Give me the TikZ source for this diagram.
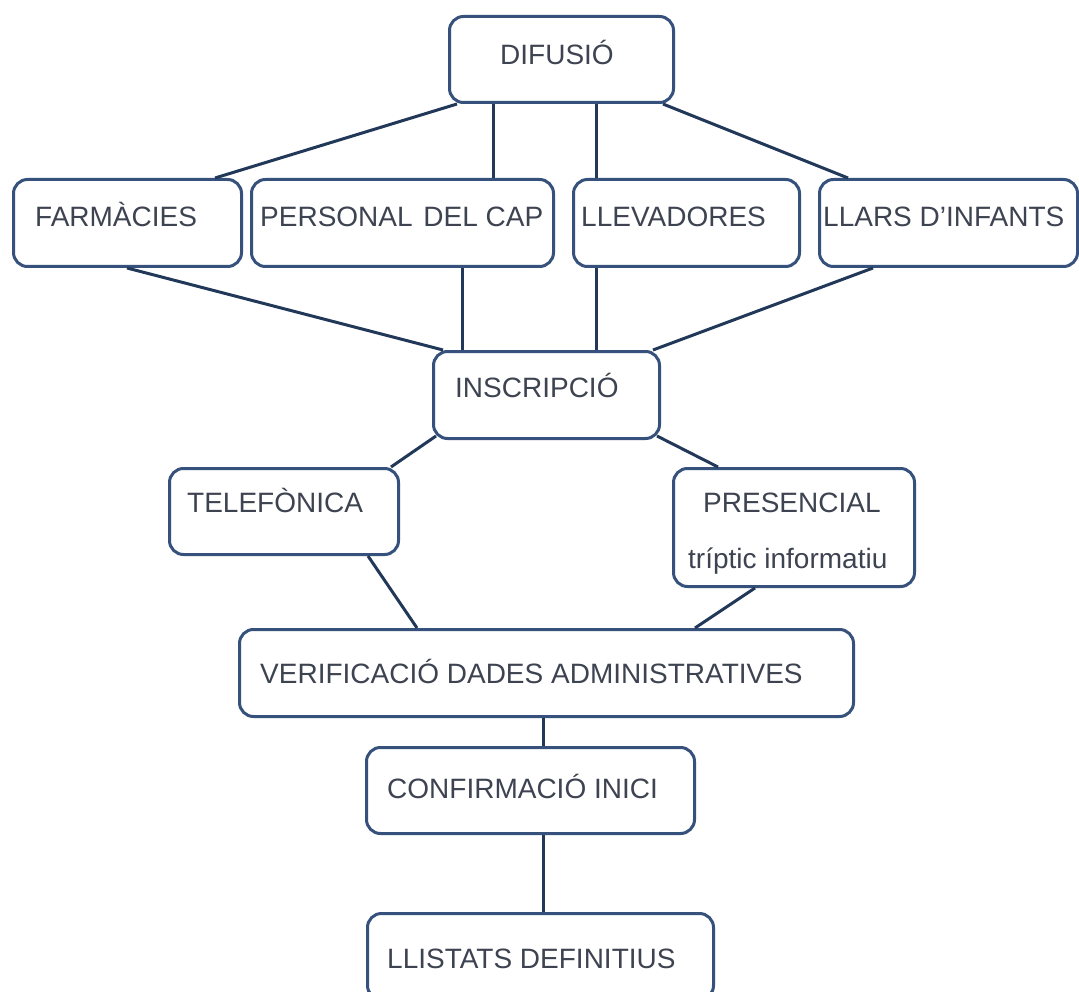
\documentclass[tikz,border=0pt]{standalone}
\usepackage{fontspec}
\setmainfont{Liberation Sans}
\definecolor{boxline}{HTML}{36527C}
\definecolor{conn}{HTML}{223858}
\definecolor{txtcol}{HTML}{3D4350}
\begin{document}
\begin{tikzpicture}[x=1pt,y=-1pt,
  box/.style={draw=boxline, line width=3pt, rounded corners=14pt, rectangle,
    anchor=north west, inner sep=0pt, fill=white},
  lbl/.style={anchor=base west, inner sep=0pt, text=txtcol,
    font=\fontsize{28}{34}\selectfont},
  link/.style={draw=conn, line width=3pt}]
\useasboundingbox[fill=white] (0,0) rectangle (1079,992);
\begin{scope}
\clip (0,0) rectangle (1079,992);
% boxes
\node[box, minimum width=224pt, minimum height=86pt] (difusio) at (448,15) {};
\node[box, minimum width=228pt, minimum height=87pt] (farm) at (12,178) {};
\node[box, minimum width=302pt, minimum height=87pt] (personal) at (250,178) {};
\node[box, minimum width=226pt, minimum height=87pt] (llev) at (572,178) {};
\node[box, minimum width=258pt, minimum height=87pt] (llars) at (818,178) {};
\node[box, minimum width=226pt, minimum height=87pt] (inscr) at (432,350) {};
\node[box, minimum width=229pt, minimum height=86pt] (telef) at (168,467) {};
\node[box, minimum width=241pt, minimum height=118pt] (pres) at (672,467) {};
\node[box, minimum width=614pt, minimum height=87pt] (verif) at (238,628) {};
\node[box, minimum width=328pt, minimum height=86pt] (conf) at (365,746) {};
\node[box, minimum width=346pt, minimum height=86pt] (llist) at (366,912) {};
% connectors
\draw[link] ([xshift=9pt]difusio.south west) -- ([xshift=203pt]farm.north west);
\draw[link] ([xshift=45pt]difusio.south west) -- ([xshift=243pt]personal.north west);
\draw[link] ([xshift=148pt]difusio.south west) -- ([xshift=24pt]llev.north west);
\draw[link] ([xshift=-12pt]difusio.south east) -- ([xshift=30pt]llars.north west);
\draw[link] ([xshift=115pt]farm.south west) -- ([xshift=11pt]inscr.north west);
\draw[link] ([xshift=212pt]personal.south west) -- ([xshift=30pt]inscr.north west);
\draw[link] ([xshift=24pt]llev.south west) -- ([xshift=164pt]inscr.north west);
\draw[link] ([xshift=55pt]llars.south west) -- ([xshift=-8pt]inscr.north east);
\draw[link] ([xshift=4pt,yshift=4pt]inscr.south west) -- ([xshift=-9pt]telef.north east);
\draw[link] ([xshift=-4pt,yshift=4pt]inscr.south east) -- ([xshift=46pt]pres.north west);
\draw[link] ([xshift=200pt]telef.south west) -- ([xshift=179pt]verif.north west);
\draw[link] ([xshift=83pt]pres.south west) -- ([xshift=457pt]verif.north west);
\draw[link] ([xshift=305pt]verif.south west) -- ([xshift=178pt]conf.north west);
\draw[link] ([xshift=178pt]conf.south west) -- ([xshift=177pt]llist.north west);
% labels
\node[lbl] (t-difusio) at (500,65) {DIFUSIÓ};
\node[lbl] (t-farm) at (35,227) {FARMÀCIES};
\node[lbl] (t-personal) at (260,227) {PERSONAL\hspace{3pt} DEL CAP};
\node[lbl] (t-llev) at (581,227) {LLEVADORES};
\node[lbl] (t-llars) at (823,227) {LLARS D’INFANTS};
\node[lbl] (t-inscr) at (455,397) {INSCRIPCIÓ};
\node[lbl] (t-telef) at (187,512) {TELEFÒNICA};
\node[lbl] (t-pres) at (703,512) {PRESENCIAL};
\node[lbl] (t-trip) at (688,568) {tríptic informatiu};
\node[lbl] (t-verif) at (260,683) {VERIFICACIÓ DADES ADMINISTRATIVES};
\node[lbl] (t-conf) at (387,798) {CONFIRMACIÓ INICI};
\node[lbl] (t-llist) at (387,968) {LLISTATS DEFINITIUS};
\end{scope}
\end{tikzpicture}
\end{document}
